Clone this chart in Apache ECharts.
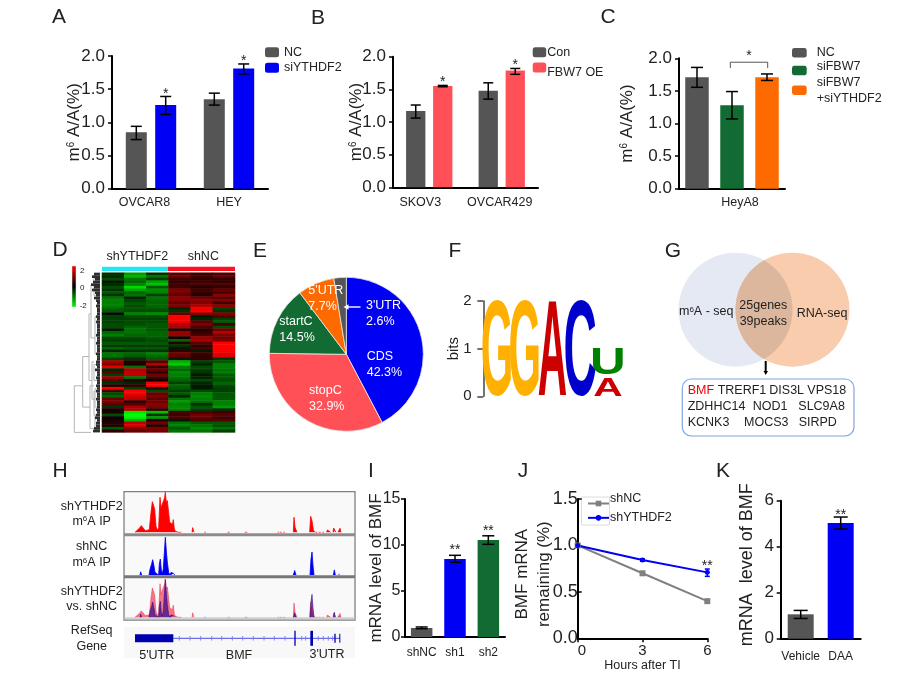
<!DOCTYPE html>
<html><head><meta charset="utf-8">
<style>html,body{margin:0;padding:0;background:#fff}#c{width:912px;height:680px}</style>
<script src="https://cdn.jsdelivr.net/npm/echarts@6/dist/echarts.min.js"></script>
</head><body><div id="c"></div>
<script>
// ---------- Panel A
const aCategories=['OVCAR8','HEY'];
const aNC=[0.85,1.35], aNCLow=[0.74,1.26], aNCHigh=[0.94,1.44];
const aSi=[1.26,1.81], aSiLow=[1.12,1.73], aSiHigh=[1.39,1.88];
const aStars=['*','*'];
// ---------- Panel B
const bCategories=['SKOV3','OVCAR429'];
const bCon=[1.17,1.48], bConLow=[1.06,1.35], bConHigh=[1.26,1.60];
const bOE=[1.55,1.79], bOELow=[1.54,1.73], bOEHigh=[1.56,1.82];
const bStars=['*','*'];
// ---------- Panel C
const cCategories=['HeyA8'];
const cNC=[1.71], cNCLow=[1.555], cNCHigh=[1.86];
const cSiFBW7=[1.28], cSiFBW7Low=[1.07], cSiFBW7High=[1.49];
const cBoth=[1.71], cBothLow=[1.66], cBothHigh=[1.76];
const cBracket=[1.94,1.85];
// ---------- Panel D
const heatColumns=['s1','s2','s3','s4','s5','s6'];
const heatRows=[
[-0.4,-1.2,-0.4,0.7,0.5,0.6],[-0.3,-1.4,-0.9,0.9,0.5,0.8],[-0.6,-0.9,-0.5,0.5,0.4,0.4],[-0.2,-0.8,-1.3,0.4,0.5,0.4],
[-0.3,-1.0,-1.5,0.5,0.6,0.6],[-0.6,-1.7,-0.7,0.5,0.3,0.4],[-0.4,-1.3,-1.1,1.0,0.5,0.8],[-0.7,-0.8,-1.0,0.9,0.4,0.5],
[-0.4,-0.9,-0.5,0.8,0.3,1.1],[-0.9,-0.3,-0.9,1.1,0.9,0.7],[-1.0,-0.5,-0.8,1.0,1.1,1.0],[-1.0,-0.7,-0.8,0.8,1.0,0.5],
[-1.0,-0.6,-0.8,1.0,1.4,1.1],[-0.8,-0.7,-0.7,-0.3,1.9,-0.5],[-0.7,-0.6,-0.6,-0.4,2.0,-0.4],[-0.1,-1.0,-1.1,0.8,1.0,1.0],
[-0.5,-0.6,-0.6,2.0,-0.2,0.6],[-0.5,-0.5,-0.5,2.0,-0.3,-0.5],[-0.5,-0.6,-0.6,1.9,0.7,-0.7],[-0.6,-0.6,-0.7,1.4,1.0,0.5],
[-0.6,-0.8,-0.7,1.4,0.6,-0.6],[-0.2,-0.9,-0.7,0.3,0.3,0.9],[-0.8,-0.9,-0.8,1.2,0.4,1.4],[-1.0,-0.8,-0.8,1.2,0.6,1.0],
[-0.6,-0.6,-0.7,0.1,1.2,0.9],[-0.5,-0.5,-0.6,-0.8,1.3,1.0],[-0.7,-0.7,-0.7,0.3,0.7,2.0],[-0.5,-0.5,-0.5,-0.4,0.4,2.0],
[-0.8,-0.7,-0.7,-0.2,0.6,2.0],[-0.3,-0.4,-0.4,0.4,-0.2,2.0],[-0.9,-0.8,-1.0,0.9,0.5,1.8],[-0.9,-0.7,-0.8,0.8,0.4,1.7],
[-0.5,-0.4,-0.7,-0.2,0.4,-0.4],[1.3,0.3,0.7,-1.4,-0.5,-0.7],[1.0,0.2,1.4,-1.6,-0.3,-1.0],[1.8,-0.9,0.4,-1.0,-0.6,-1.0],
[-0.3,1.4,0.8,-0.8,-0.5,-0.9],[0.7,1.5,0.4,-1.1,-0.4,-1.0],[-0.5,1.5,0.9,-1.0,-0.2,-0.7],[1.2,-0.9,0.5,-0.9,-0.3,-0.7],
[0.6,0.3,0.1,-0.8,-0.6,-0.6],[-0.4,-0.3,1.9,-0.5,-0.3,-0.8],[0.3,0.4,2.0,-0.8,-0.2,-0.6],[2.0,-0.5,0.2,-0.7,-0.2,-0.5],
[0.5,2.0,-0.6,-0.5,-0.6,-0.5],[-0.6,1.9,0.8,-0.7,-1.0,-0.7],[-0.8,1.6,1.0,-0.3,-1.1,-0.7],[0.8,1.5,0.7,-0.9,-1.0,-0.7],
[1.0,0.4,0.9,-1.2,-0.9,-1.0],[0.7,0.7,1.1,-1.0,-0.4,-1.0],[-0.4,1.3,1.0,-1.1,-0.7,-1.2],[0.2,1.4,0.4,-1.0,-0.5,-0.4],
[0.2,-1.8,-1.5,0.6,0.6,0.5],[-0.6,-2.0,-0.4,0.5,0.9,0.7],[0.1,-1.9,-1.2,0.6,0.8,0.5],[0.2,-1.4,0.3,-0.2,0.6,0.7],
[0.3,1.5,0.9,-0.9,-0.7,-0.7],[0.2,1.7,0.3,-1.0,-0.9,-0.6],[-0.7,1.0,1.0,-0.7,-1.1,-0.9],[0.3,0.8,0.9,-0.9,-0.9,-0.5]];
const dendroMerges=[[42,59.5,17.3,9,25.7],[31,50,11,10,17.3],[15,40,9,8,11],[4,24,6,5,9],[0.5,8,3.5,3.5,6],[16,30,3.5,3.5,5],
[33,47,6,5,8],[42,58,6,5,10],[34,40,3.5,3,6],[43,50,3.5,3,5],[44,53,4,3,6],[53,58.5,3,3,5]];
const dendroLeaves=[6,8,5,7,9,6,8,5,4,6,4,3,4,3,3,3,4,3,4,3,3,3,3,4,3,3,4,3,3,3,4,3,3,4,4,3,5,3,3,4,3,3,4,3,4,3,3,4,3,3,3,4,3,4,5,3,4,4,6,7];
// ---------- Panel E
const pieNames=['CDS','stopC','startC',"5'UTR","3'UTR"];
const pieValues=[42.3,32.9,14.5,7.7,2.6];
// ---------- Panel F
const logoLetters=['G','G','A','C','U','A'];
const logoPositions=[0,1,2,3,4,4];
const logoBottoms=[0,0,0,0,0.45,0];
const logoTops=[2,2,2,2,0.985,0.39];
// ---------- Panel G
const geneRows=[[['BMF','#f00000'],['TRERF1'],['DIS3L'],['VPS18']],[['ZDHHC14'],['NOD1'],['SLC9A8']],[['KCNK3'],['MOCS3'],['SIRPD']]];
// ---------- Panel H
const redTrack=[[285,0],[285,3],[290,5],[298,12],[304,20],[310,14],[316,5],[322,3],[328,8],[333,60],[337,92],[340,95],[344,70],[348,18],[352,6],[356,14],[360,105],[363,72],[367,85],[371,95],[374,105],[376,120],[379,88],[382,95],[386,58],[389,30],[393,35],[397,24],[400,38],[403,10],[406,3],[410,4],[415,0],[420,4],[424,0],[456,0],[458,14],[461,3],[463,0],[493,0],[495,4],[498,0],[563,0],[566,4],[569,0],[614,0],[617,6],[620,2],[622,0],[713,0],[715,4],[718,0],[720,0],[722,4],[725,0],[730,0],[732,4],[735,0],[760,0],[762,45],[765,15],[768,12],[771,0],[809,0],[812,48],[816,35],[820,8],[824,0],[826,0],[828,4],[832,0],[836,0],[838,4],[842,0],[847,0],[849,4],[852,0],[860,0],[862,7],[868,5],[872,0],[879,0],[881,13],[885,5],[888,0],[894,0],[896,5],[900,12],[903,0]];
const blueTrack=[[300,0],[302,10],[305,0],[327,0],[330,18],[335,35],[338,48],[342,28],[345,8],[350,2],[356,0],[358,35],[361,50],[364,15],[367,5],[370,20],[373,70],[376,118],[379,75],[382,40],[386,8],[390,0],[393,8],[397,12],[401,5],[404,0],[760,0],[764,14],[768,0],[810,0],[813,50],[816,72],[819,30],[822,0],[880,0],[883,16],[886,0],[896,0],[898,4],[900,0]];
const geneExons=[[285,400,4],[763,767,7.5],[811,819,7.5],[883,887,4.5],[898,901,4.5]];
const intronSpan=[400,900];
const intronMarks=[418,450,482,515,545,577,608,640,672,703,735,785,797,835,850,865,878];
// ---------- Panel I
const iCategories=['shNC','sh1','sh2'];
const iValues=[0.98,8.48,10.54], iLow=[0.9,8.12,10.07], iHigh=[1.09,8.88,11.0];
const iStars=['','**','**'];
// ---------- Panel J
const jHours=[0,3,6];
const jShNC=[1.0,0.7,0.4];
const jShY=[1.0,0.843,0.71];
const jShYLow=[1.0,0.83,0.667], jShYHigh=[1.0,0.855,0.746];
const jStars=['','','**'];
// ---------- Panel K
const kCategories=['Vehicle','DAA'];
const kValues=[1.06,5.03], kLow=[0.88,4.77], kHigh=[1.23,5.29];
const kStars=['','**'];

const F='"Liberation Sans", Arial, sans-serif';
const INK='#222', GRAY='#555555', BLUE='#0000f5', RED='#ff5058', GREEN='#126b33', ORANGE='#ff6a00';

const grids=[],xAxes=[],yAxes=[],series=[],legends=[],g=[];
function addGrid(left,top,width,height){grids.push({left,top,width,height,containLabel:false});return grids.length-1;}
function catAxis(gi,data,fs,margin,pads){
  const rich={};const map={};
  Object.keys(pads||{}).forEach((k,i)=>{rich['p'+i]={padding:pads[k],fontSize:fs,fontFamily:F,color:INK};map[k]='p'+i;});
  xAxes.push({type:'category',gridIndex:gi,data,axisTick:{alignWithLabel:true,length:4,lineStyle:{width:1.5,color:'#000'}},
    axisLine:{lineStyle:{color:'#000',width:2}},
    axisLabel:{fontSize:fs,color:INK,fontFamily:F,margin,interval:0,rich,formatter:v=>map[v]?`{${map[v]}|${v}}`:v}});
  return xAxes.length-1;
}
function valAxis(gi,min,max,interval,fs,digits,name,nameGap,o){
  o=o||{};
  yAxes.push({type:'value',gridIndex:gi,min,max,interval,name,nameLocation:'middle',nameGap,nameRotate:90,nameMoveOverlap:false,
    nameTextStyle:Object.assign({fontSize:17,color:INK,fontFamily:F,
      rich:{a:{fontSize:17,color:INK,fontFamily:F},s:{fontSize:10,color:INK,fontFamily:F,verticalAlign:'top'}}},o.nameStyle||{}),
    splitLine:{show:false},
    axisTick:{show:true,length:4,inside:!!o.inside,lineStyle:{width:1.5,color:'#000'}},
    axisLine:{show:true,lineStyle:{color:'#000',width:2}},
    axisLabel:{fontSize:fs,color:INK,fontFamily:F,margin:o.margin==null?7:o.margin,formatter:v=>v.toFixed(digits)}});
  return yAxes.length-1;
}
function hiddenAxis(list,gi,min,max,inverse){list.push({type:'value',gridIndex:gi,min,max,inverse:!!inverse,show:false,splitLine:{show:false}});return list.length-1;}
function bar(xi,yi,name,data,color,width,gap){
  series.push({type:'bar',name,xAxisIndex:xi,yAxisIndex:yi,data,barWidth:width,barGap:gap,itemStyle:{color},silent:true});
}
function errorBars(xi,yi,rows,color,cap,lift){
  series.push({type:'custom',xAxisIndex:xi,yAxisIndex:yi,silent:true,z:4,clip:false,
    data:rows.map(r=>[r.x,r.lo,r.hi]),
    renderItem(p,api){
      const r=rows[p.dataIndex],a=api.coord([r.x,r.lo]),b=api.coord([r.x,r.hi]),x=a[0]+(r.dx||0);
      const st={stroke:color,lineWidth:1.5},kids=[];
      if(r.hi>r.lo)kids.push({type:'line',shape:{x1:x,y1:a[1],x2:x,y2:b[1]},style:st},
        {type:'line',shape:{x1:x-cap,y1:a[1],x2:x+cap,y2:a[1]},style:st},
        {type:'line',shape:{x1:x-cap,y1:b[1],x2:x+cap,y2:b[1]},style:st});
      if(r.star)kids.push({type:'text',x,y:b[1]-lift,style:{text:r.star,align:'center',verticalAlign:'middle',fontSize:14,fontFamily:F,fill:INK}});
      return {type:'group',children:kids};
    }});
}
// shift: vertical offset of the legend text against its icon
function legend(name,left,top,iw,ih,pad,shift){
  const l={data:[name],left,top,orient:'vertical',itemWidth:iw,itemHeight:ih,selectedMode:false,padding:0,
    textStyle:{fontSize:12.5,color:INK,fontFamily:F,lineHeight:15.7,padding:pad||0}};
  if(shift){
    l.formatter='{t|{name}}';
    l.textStyle={fontSize:12.5,color:INK,fontFamily:F,padding:pad||0,
      rich:{t:{fontSize:12.5,color:INK,fontFamily:F,padding:shift>0?[2*shift,0,0,0]:[0,0,-2*shift,0]}}};
  }
  legends.push(l);
}
function text(x,y,t,o){
  o=o||{};
  g.push({type:'text',x,y,z:o.z==null?10:o.z,silent:true,style:{text:t,align:o.align||'left',textAlign:o.align||'left',verticalAlign:'middle',textVerticalAlign:'middle',
    fontSize:o.fs||12.5,fontFamily:F,fill:o.color||INK,rich:o.rich,lineHeight:o.lh}});
}
const supRich={a:{fontSize:12.5,fontFamily:F,fill:INK,color:INK},s:{fontSize:8,fontFamily:F,fill:INK,color:INK,verticalAlign:'top'}};

// Panel A
{const gi=addGrid(112,56,156,132.7),x=catAxis(gi,aCategories,12.5,7,{OVCAR8:[0,13,0,0]}),y=valAxis(gi,0,2,0.5,17,1,'{a|m}{s|6}{a| A/A(%)}',28.7);
 bar(x,y,'NC',aNC,GRAY,21,'40%');bar(x,y,'siYTHDF2',aSi,BLUE,21,'40%');
 const rows=[];aCategories.forEach((c,i)=>{rows.push({x:i,lo:aNCLow[i],hi:aNCHigh[i],dx:-14.7});rows.push({x:i,lo:aSiLow[i],hi:aSiHigh[i],dx:14.7,star:aStars[i]});});
 errorBars(x,y,rows,'#000',5.5,2.7);
 legend('NC',265,44.5,14,10);legend('siYTHDF2',265,60,14,10);}
// Panel B
{const gi=addGrid(393,56.7,145,130.6),x=catAxis(gi,bCategories,12.5,9,{SKOV3:[0,18,0,0],OVCAR429:[0,4,0,0]}),y=valAxis(gi,0,2,0.5,17,1,'{a|m}{s|6}{a| A/A(%)}',28);
 bar(x,y,'Con',bCon,GRAY,19.3,'40%');bar(x,y,'FBW7 OE',bOE,RED,19.3,'40%');
 const rows=[];bCategories.forEach((c,i)=>{rows.push({x:i,lo:bConLow[i],hi:bConHigh[i],dx:-13.5});rows.push({x:i,lo:bOELow[i],hi:bOEHigh[i],dx:13.5,star:bStars[i]});});
 errorBars(x,y,rows,'#000',5,3.7);
 legend('Con',532.7,44.5,13.5,10,[0,0,0,-4]);legend('FBW7 OE',532.7,62.5,13.5,10,[0,0,0,-4],5.5);}
// Panel C
{const gi=addGrid(679,58.3,106,130.4),x=catAxis(gi,cCategories,12.5,7,{HeyA8:[0,0,0,16]}),y=valAxis(gi,0,2,0.5,17,1,'{a|m}{s|6}{a| A/A(%)}',43);
 bar(x,y,'NC',cNC,GRAY,23.5,'49%');bar(x,y,'siFBW7',cSiFBW7,GREEN,23.5,'49%');bar(x,y,'siFBW7\n+siYTHDF2',cBoth,ORANGE,23.5,'49%');
 errorBars(x,y,[{x:0,lo:cNCLow[0],hi:cNCHigh[0],dx:-35},{x:0,lo:cSiFBW7Low[0],hi:cSiFBW7High[0],dx:0},{x:0,lo:cBothLow[0],hi:cBothHigh[0],dx:35}],'#000',6,2);
 series.push({type:'custom',xAxisIndex:x,yAxisIndex:y,silent:true,clip:false,z:4,data:[[0,cBracket[0],cBracket[1]]],renderItem(p,api){
   const t=api.coord([0,cBracket[0]]),b=api.coord([0,cBracket[1]]),x1=t[0]-1.7,x2=t[0]+35.7;
   return {type:'group',children:[{type:'polyline',shape:{points:[[x1,b[1]],[x1,t[1]],[x2,t[1]],[x2,b[1]]]},style:{stroke:'#555',lineWidth:1,fill:null}},
     {type:'text',x:(x1+x2)/2,y:t[1]-6,style:{text:'*',align:'center',verticalAlign:'middle',fontSize:14,fontFamily:F,fill:INK}}]};}});
 legend('NC',792,45,14.7,9.5,[0,0,0,5]);legend('siFBW7',792,60.5,14.7,9.5,[0,0,0,5],-3.5);legend('siFBW7\n+siYTHDF2',792,74.5,14.7,9.5,[0,0,0,5]);}
// Panel D heat map
{const gi=addGrid(102,272.7,133,159.7);
 xAxes.push({type:'category',gridIndex:gi,data:heatColumns,show:false});const x=xAxes.length-1;
 yAxes.push({type:'category',gridIndex:gi,data:heatRows.map((r,i)=>String(i)),inverse:true,show:false});const y=yAxes.length-1;
 const d=[];heatRows.forEach((r,ri)=>r.forEach((v,ci)=>d.push([ci,ri,v])));
 series.push({type:'heatmap',xAxisIndex:x,yAxisIndex:y,data:d,silent:true,progressive:0,itemStyle:{borderWidth:0}});
 var heatIndex=series.length-1;
 const gd=addGrid(74,272.7,26,159.7),xd=hiddenAxis(xAxes,gd,0,26,true),yd=hiddenAxis(yAxes,gd,0,60,true);
 series.push({type:'custom',xAxisIndex:xd,yAxisIndex:yd,silent:true,data:dendroMerges,renderItem(p,api){
   const m=dendroMerges[p.dataIndex],c=(d,r)=>api.coord([d,r+0.5]);
   return {type:'polyline',shape:{points:[c(m[2],m[0]),c(m[4],m[0]),c(m[4],m[1]),c(m[3],m[1])]},style:{stroke:'#b5b5b5',lineWidth:1,fill:null}};}});
 series.push({type:'custom',xAxisIndex:xd,yAxisIndex:yd,silent:true,data:dendroLeaves.map((l,i)=>[l,i]),renderItem(p,api){
   const i=p.dataIndex,a=api.coord([0,i+0.5]),b=api.coord([dendroLeaves[i],i+0.5]);
   return {type:'line',shape:{x1:a[0],y1:a[1],x2:b[0],y2:b[1]},style:{stroke:'#2e2e2e',lineWidth:2.7}};}});
 g.push({type:'rect',shape:{x:102,y:266.7,width:66,height:4.3},style:{fill:'#22e5f5'}});
 g.push({type:'rect',shape:{x:168,y:266.7,width:67,height:4.3},style:{fill:'#ff1020'}});
 text(137.3,257,'shYTHDF2',{align:'center'});text(203.3,257,'shNC',{align:'center'});
 g.push({type:'rect',shape:{x:72,y:266,width:4,height:41},style:{stroke:'#ddd',lineWidth:0.5,fill:{type:'linear',x:0,y:0,x2:0,y2:1,colorStops:[{offset:0,color:'#ff0000'},{offset:0.5,color:'#000000'},{offset:1,color:'#00ff00'}]}}});
 text(80,271,'2',{fs:8});text(80,288,'0',{fs:8});text(79.7,306,'-2',{fs:8});}
// Panel E pie
{const labelX=[366.7,309,279.3,308.3,366],labelY=[364.5,399,329.5,299,313.7];
 series.push({type:'pie',center:[346.3,354.3],radius:[0,77],startAngle:90,clockwise:true,silent:true,
  data:pieNames.map((n,i)=>({name:n,value:pieValues[i]})),color:[BLUE,RED,GREEN,ORANGE,GRAY],
  itemStyle:{borderColor:'#e8e8e8',borderWidth:0.8},labelLine:{show:false},
  label:{show:true,position:'inside',color:'#fff',fontSize:12.5,fontFamily:F,lineHeight:16,align:'left',formatter:p=>p.name+'\n'+p.value.toFixed(1)+'%'},
  labelLayout:p=>({x:labelX[p.dataIndex],y:labelY[p.dataIndex],align:'left',verticalAlign:'middle'})});
 g.push({type:'line',z:100,silent:true,shape:{x1:360.5,y1:307,x2:347,y2:307},style:{stroke:'#fff',lineWidth:1.4}});
 g.push({type:'polygon',z:100,silent:true,shape:{points:[[343.5,307],[348.5,304.3],[348.5,309.7]]},style:{fill:'#fff'}});}
// Panel F logo
{const gi=addGrid(483.3,301,138.4,95.3),x=hiddenAxis(xAxes,gi,0,5),
 y=valAxis(gi,0,2,1,15,0,'bits',20,{margin:10,nameStyle:{fontSize:15}});
 yAxes[y].offset=1.6;yAxes[y].axisLine.lineStyle={color:'#444',width:1.5};yAxes[y].axisTick={show:true,length:6,lineStyle:{color:'#444',width:1.5}};
 const col={G:'#ffb000',A:'#cc0000',C:'#0000cc',U:'#008000'},ink={G:0.66,A:0.68,C:0.6,U:0.56};
 series.push({type:'custom',xAxisIndex:x,yAxisIndex:y,silent:true,clip:false,data:logoLetters.map((l,i)=>[logoPositions[i],logoBottoms[i],logoTops[i]]),renderItem(p,api){
  const i=p.dataIndex,L=logoLetters[i],a=api.coord([logoPositions[i],logoTops[i]]),b=api.coord([logoPositions[i]+1,logoBottoms[i]]),w=b[0]-a[0],h=b[1]-a[1],fs=100;
  return {type:'text',x:(a[0]+b[0])/2,y:(a[1]+b[1])/2+0.09*h,scaleX:w/(fs*ink[L]),scaleY:h/(fs*0.70),
   style:{text:L,fontSize:fs,fontWeight:'bold',fontFamily:F,fill:col[L],align:'center',verticalAlign:'middle'}};}});}
// Panel G venn
{g.push({type:'circle',shape:{cx:735.5,cy:309.7,r:57},style:{fill:'#e4e9f3'}});
 g.push({type:'circle',shape:{cx:792.5,cy:309.7,r:57},style:{fill:'#f8ccac'}});
 const lens=[];
 for(let a=-60;a<=60;a+=3)lens.push([735.5+57*Math.cos(a*Math.PI/180),309.7+57*Math.sin(a*Math.PI/180)]);
 for(let a=60;a>=-60;a-=3)lens.push([792.5-57*Math.cos(a*Math.PI/180),309.7+57*Math.sin(a*Math.PI/180)]);
 g.push({type:'polygon',shape:{points:lens},style:{fill:'#dcb69d'}});
 text(679,312,'{a|m}{s|6}{a|A - seq}',{rich:supRich});
 text(763.3,306,'25genes',{align:'center'});text(763.3,321.7,'39peaks',{align:'center'});text(796.7,313.3,'RNA-seq');
 g.push({type:'line',shape:{x1:765.7,y1:361,x2:765.7,y2:372},style:{stroke:'#000',lineWidth:2}});
 g.push({type:'polygon',shape:{points:[[763.5,371],[768,371],[765.7,375]]},style:{fill:'#000'}});
 g.push({type:'rect',shape:{x:682.3,y:379,width:171.7,height:57,r:9},style:{fill:'#fff',stroke:'#7fa6e0',lineWidth:1.2}});
 const xs=[[687.7,717.7,769.3,807.3],[687.7,752.7,798.3],[687.7,744,798.7]],ys=[391,407,422.7];
 geneRows.forEach((row,r)=>row.forEach((c,i)=>text(xs[r][i],ys[r],c[0],{color:c[1]||INK})));}
// Panel H tracks
{g.push({type:'rect',shape:{x:124,y:491.7,width:231,height:128.3},style:{fill:'#f9f9f9',stroke:'#808080',lineWidth:1.3}});
 g.push({type:'rect',shape:{x:124,y:533.3,width:231,height:3},style:{fill:'#8c8c8c'}});
 g.push({type:'rect',shape:{x:124,y:575.3,width:231,height:3},style:{fill:'#777'}});
 g.push({type:'rect',shape:{x:124.6,y:617.3,width:229.8,height:2.2},style:{fill:'#d0d0d0'}});
 g.push({type:'rect',shape:{x:124,y:626.7,width:231,height:31.6},style:{fill:'#f8f8f8'}});
 // break the line between separate peaks so no outline runs along the baseline
 const broken=d=>{const o=[];d.forEach((p,i)=>{if(i&&p[1]===0&&d[i-1][1]===0)o.push([p[0],null]);o.push(p);});return o;};
 const area=(xi,yi,data,color,op)=>series.push({type:'line',xAxisIndex:xi,yAxisIndex:yi,data:broken(data),connectNulls:false,symbol:'none',showSymbol:false,silent:true,lineStyle:{width:0.8,color,opacity:op},areaStyle:{color,opacity:op},z:3});
 [[492.3,40],[536.7,38.3],[579,38.3]].forEach(t=>{const gi=addGrid(124,t[0],231,t[1]);hiddenAxis(xAxes,gi,252,945);hiddenAxis(yAxes,gi,0,120);});
 const xn=xAxes.length,yn=yAxes.length;
 area(xn-3,yn-3,redTrack,'#ff0000',1);
 area(xn-2,yn-2,blueTrack,'#0000f0',1);
 area(xn-1,yn-1,redTrack,'#f0304a',0.65);
 area(xn-1,yn-1,blueTrack,'#200090',0.65);
 const gi=addGrid(124,628,231,20.6),x=hiddenAxis(xAxes,gi,252,945),y=hiddenAxis(yAxes,gi,-10.3,10.3);
 series.push({type:'custom',xAxisIndex:x,yAxisIndex:y,silent:true,data:[[intronSpan[0],0,intronSpan[1]]],renderItem(p,api){
   const a=api.coord([intronSpan[0],0]),b=api.coord([intronSpan[1],0]);
   return {type:'line',shape:{x1:a[0],y1:a[1],x2:b[0],y2:b[1]},style:{stroke:'#4a4ae6',lineWidth:1}};}});
 series.push({type:'custom',xAxisIndex:x,yAxisIndex:y,silent:true,data:intronMarks.map(m=>[m,0]),renderItem(p,api){
   const m=intronMarks[p.dataIndex],a=api.coord([m,-2.3]),b=api.coord([m,2.3]);
   return {type:'line',shape:{x1:a[0],y1:a[1],x2:b[0],y2:b[1]},style:{stroke:'#7a7aee',lineWidth:0.9}};}});
 series.push({type:'custom',xAxisIndex:x,yAxisIndex:y,silent:true,data:geneExons,renderItem(p,api){
   const e=geneExons[p.dataIndex],a=api.coord([e[0],e[2]]),b=api.coord([e[1],-e[2]]);
   return {type:'rect',shape:{x:a[0],y:a[1],width:b[0]-a[0],height:b[1]-a[1]},style:{fill:'#0000b0'}};}});
 text(91.7,506.7,'shYTHDF2',{align:'center'});text(91.7,521.7,'{a|m}{s|6}{a|A IP}',{align:'center',rich:supRich});
 text(91.7,547,'shNC',{align:'center'});text(91.7,563,'{a|m}{s|6}{a|A IP}',{align:'center',rich:supRich});
 text(91.7,591.7,'shYTHDF2',{align:'center'});text(91.7,607,'vs. shNC',{align:'center'});
 text(91.7,631,'RefSeq',{align:'center'});text(91.7,647,'Gene',{align:'center'});
 text(156.7,656,"5'UTR",{align:'center'});text(239,656,'BMF',{align:'center'});text(327,654.3,"3'UTR",{align:'center'});}
// Panel I
{const gi=addGrid(405,499,100,138),x=catAxis(gi,iCategories,12,10),y=valAxis(gi,0,15,5,16,0,'mRNA level of BMF',20,{margin:4.5});
 series.push({type:'bar',xAxisIndex:x,yAxisIndex:y,silent:true,barWidth:21.5,data:iValues.map((v,i)=>({value:v,itemStyle:{color:[GRAY,BLUE,GREEN][i]}}))});
 errorBars(x,y,iValues.map((v,i)=>({x:i,lo:iLow[i],hi:iHigh[i],star:iStars[i]})),'#000',6,5);}
// Panel J
{const gi=addGrid(577.7,499,129.6,139.3);
 xAxes.push({type:'value',gridIndex:gi,min:0,max:6,interval:3,splitLine:{show:false},name:'Hours after TI',nameLocation:'middle',nameGap:21,nameMoveOverlap:false,
   nameTextStyle:{fontSize:12.5,color:INK,fontFamily:F},axisLine:{onZero:false,lineStyle:{color:'#000',width:2}},axisTick:{length:4,lineStyle:{width:1.5,color:'#000'}},
   axisLabel:{fontSize:15,color:INK,fontFamily:F,margin:5,alignMinLabel:'left',formatter:v=>String(v)}});
 const x=xAxes.length-1,y=valAxis(gi,0,1.5,0.5,18,1,'BMF mRNA\nremaining (%)',22.7,{inside:true,margin:0,nameStyle:{lineHeight:22,padding:[0,11,0,0]}});
 const zip=a=>jHours.map((h,i)=>[h,a[i]]);
 series.push({type:'line',name:'shNC',xAxisIndex:x,yAxisIndex:y,data:zip(jShNC),symbol:'rect',symbolSize:6,silent:true,lineStyle:{color:'#808080',width:2},itemStyle:{color:'#808080'}});
 series.push({type:'line',name:'shYTHDF2',xAxisIndex:x,yAxisIndex:y,data:zip(jShY),symbol:'circle',symbolSize:5,silent:true,lineStyle:{color:'#0000f5',width:2},itemStyle:{color:'#0000f5'}});
 errorBars(x,y,jHours.map((h,i)=>({x:h,lo:jShYLow[i],hi:jShYHigh[i],star:jStars[i]})),'#0000f5',2.5,3);
 g.push({type:'rect',shape:{x:581.5,y:497,width:28,height:28},style:{fill:'none',stroke:'#dcdcdc',lineWidth:1}});
 legend('shNC',587,492,21,7,[0,0,0,-4],-5);legend('shYTHDF2',587,510,21,7,[0,0,0,-4]);}
// Panel K
{const gi=addGrid(780.7,500.7,80,138),x=catAxis(gi,kCategories,12,12),y=valAxis(gi,0,6,2,17,0,'mRNA  level of BMF',24.7,{margin:6.7,nameStyle:{fontSize:18,padding:[0,0,0,10]}});
 series.push({type:'bar',xAxisIndex:x,yAxisIndex:y,silent:true,barWidth:26,data:kValues.map((v,i)=>({value:v,itemStyle:{color:[GRAY,BLUE][i]}}))});
 errorBars(x,y,kValues.map((v,i)=>({x:i,lo:kLow[i],hi:kHigh[i],star:kStars[i]})),'#000',7,2);}

// Panel letters
[['A',59,17.5],['B',318,18],['C',608,17],['D',60,250.7],['E',260,251],['F',455,251],['G',673,251],['H',60,471.7],['I',371,471.7],['J',523,471.7],['K',723,471.7]]
 .forEach(l=>text(l[1],l[2],l[0],{fs:21,align:'center'}));

const chart=echarts.init(document.getElementById('c'),null,{renderer:'canvas'});
chart.setOption({animation:false,backgroundColor:'#fff',grid:grids,xAxis:xAxes,yAxis:yAxes,series,legend:legends,
 visualMap:{show:false,seriesIndex:heatIndex,min:-2,max:2,inRange:{color:['#00ff00','#000000','#ff0000']}},
 graphic:{elements:g}});
</script></body></html>
